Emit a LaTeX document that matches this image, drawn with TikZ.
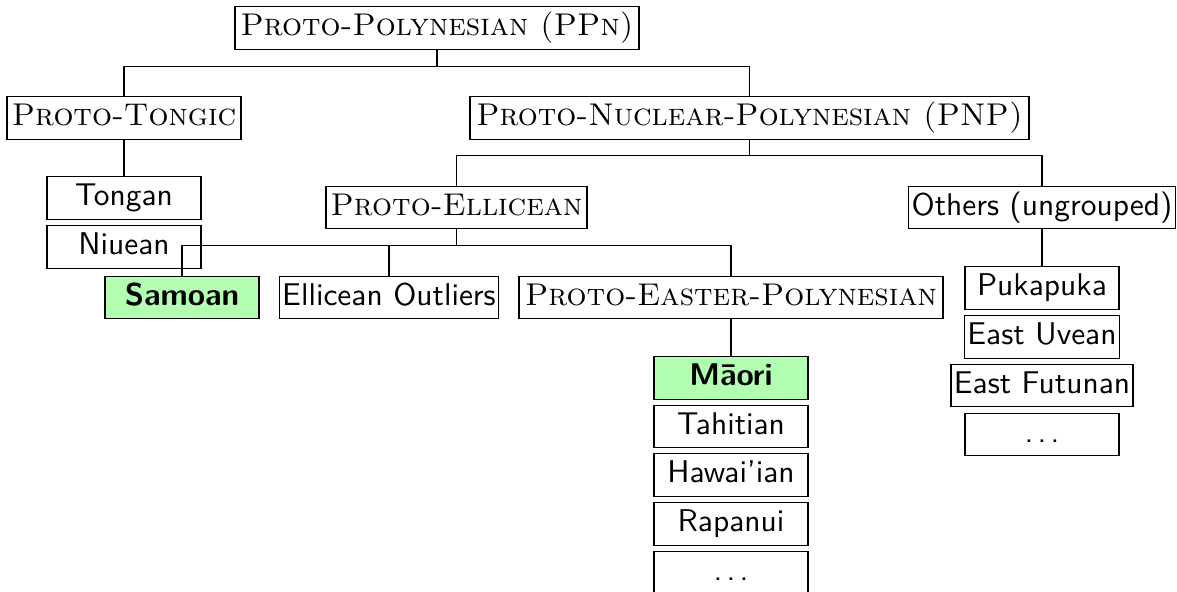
\documentclass[tikz,border=0pt]{standalone}
\usepackage{fontspec}
\newcommand{\pxu}{0.3484pt}
\newcommand{\spdots}{.\hspace{0.14em}.\hspace{0.14em}.}
\tikzset{
  box/.style={draw=black, line width=0.4pt, fill=white, anchor=center,
    minimum height=42.5*\pxu, inner xsep=1pt, inner ysep=1.75pt,
    text height=8.4pt, text depth=2.9pt, font=\fontsize{10.95}{13.6}\selectfont},
  proto/.style={box, font=\fontsize{10.95}{13.6}\selectfont\rmfamily},
  lang/.style={box, font=\fontsize{10.95}{13.6}\selectfont\sffamily, minimum width=154*\pxu},
  hl/.style={lang, fill=green!30, font=\fontsize{10.95}{13.6}\selectfont\sffamily\bfseries},
  link/.style={draw=black, line width=0.4pt}
}
\begin{document}
\begin{tikzpicture}[x=0.3484pt, y=-0.3484pt]
\useasboundingbox (0,0) rectangle (1177,592);
% level 0
\node[proto, minimum width=404*\pxu] (ppn) at (437,28) {\textsc{Proto-Polynesian (PPn)}};
% level 1
\node[proto, minimum width=559*\pxu] (pnp) at (749.5,118) {\textsc{Proto-Nuclear-Polynesian (PNP)}};
\node[proto, minimum width=234*\pxu] (ptongic) at (124,118) {\textsc{Proto-Tongic}};
% Tongic children
\node[lang] (tongan) at (124,198) {Tongan};
\node[lang] (niuean) at (124,247) {Niuean};
% PNP children
\node[proto, minimum width=261*\pxu] (pell) at (456.5,207.5) {\textsc{Proto-Ellicean}};
\node[lang, minimum width=262*\pxu] (others) at (1042,207.5) {Others (ungrouped)};
% Others children
\node[lang] (pukapuka) at (1042,288) {Pukapuka};
\node[lang] (uvean) at (1042,337) {East Uvean};
\node[lang, minimum width=180*\pxu] (futunan) at (1042,385.5) {East Futunan};
\node[lang] (odots) at (1042,434.5) {\spdots};
% Ellicean children
\draw[link] (pell.south) -- ++(0,16) coordinate (ellbar);
\node[hl] (samoan) at (182,297.5) {Samoan};
\node[lang, minimum width=216*\pxu] (eo) at (389,297.5) {Ellicean Outliers};
\node[proto, minimum width=424*\pxu] (pep) at (731,297.5) {\textsc{Proto-Easter-Polynesian}};
% Easter children
\node[hl] (maori) at (731,378) {Māori};
\node[lang] (tahitian) at (731,426.5) {Tahitian};
\node[lang] (hawaiian) at (731,475) {Hawai'ian};
\node[lang] (rapanui) at (731,524) {Rapanui};
\node[lang] (edots) at (731,573) {\spdots};
% connectors
\draw[link] (ppn.south) -- ++(0,17) -| (ptongic.north);
\draw[link] (ppn.south) -- ++(0,17) -| (pnp.north);
\draw[link] (ptongic.south) -- (tongan.north);
\draw[link] (pnp.south) -- ++(0,16) -| (pell.north);
\draw[link] (pnp.south) -- ++(0,16) -| (others.north);
\draw[link] (ellbar) -| (samoan.north);
\draw[link] (ellbar) -| (eo.north);
\draw[link] (ellbar) -| (pep.north);
\draw[link] (others.south) -- (pukapuka.north);
\draw[link] (pep.south) -- (maori.north);
\end{tikzpicture}
\end{document}
